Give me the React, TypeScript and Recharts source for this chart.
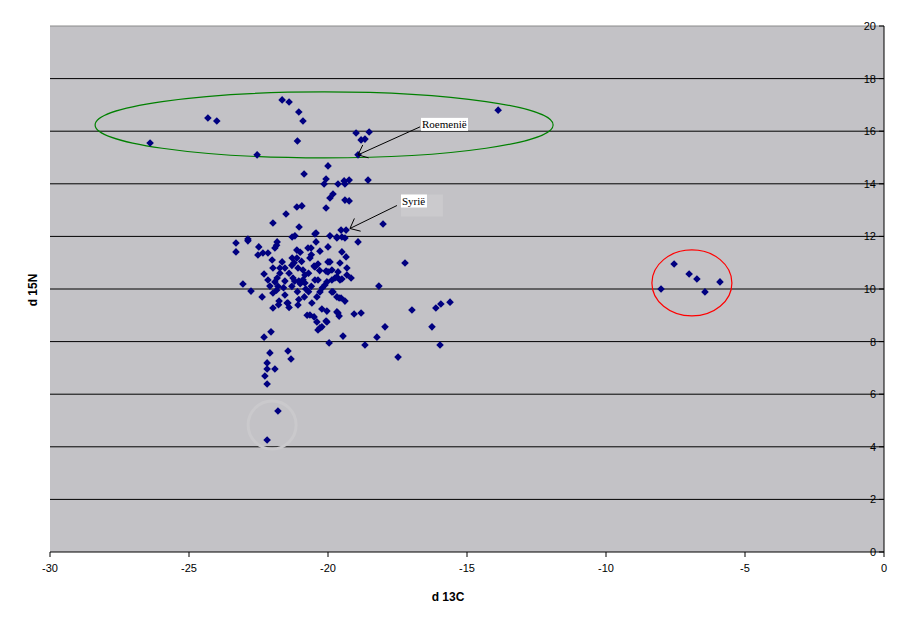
import { ScatterChart, Scatter, XAxis, YAxis, ReferenceLine, ReferenceArea } from "recharts";

// d13C / d15N values
const xTicks = [-30, -25, -20, -15, -10, -5, 0];
const yTicks = [0, 2, 4, 6, 8, 10, 12, 14, 16, 18, 20];
const gridValues = [2, 4, 6, 8, 10, 12, 14, 16, 18];

const upperGroup: [number, number][] = [
  [-26.4, 15.55], [-24.32, 16.5], [-24.0, 16.39], [-22.55, 15.1], [-21.65, 17.19], [-21.4, 17.11],
  [-21.05, 16.73], [-20.9, 16.39], [-21.1, 15.63], [-18.99, 15.93], [-18.52, 15.97], [-18.81, 15.67],
  [-18.67, 15.7], [-18.92, 15.1], [-13.88, 16.8],
];

const column: [number, number][] = [
  [-20.0, 14.68], [-20.86, 14.37], [-20.07, 14.18], [-20.14, 13.99], [-19.64, 13.99], [-19.39, 13.99],
  [-19.42, 14.11], [-19.24, 14.14], [-18.56, 14.14], [-19.82, 13.61], [-19.93, 13.46], [-19.39, 13.38],
  [-19.24, 13.35], [-21.12, 13.12], [-20.94, 13.16], [-20.07, 13.08], [-21.51, 12.85], [-21.98, 12.51],
  [-21.04, 12.36], [-20.47, 12.09], [-18.02, 12.47], [-19.53, 12.24], [-19.35, 12.24], [-21.29, 11.98],
  [-21.19, 12.02], [-19.93, 12.02], [-19.68, 11.98], [-19.5, 11.98], [-22.88, 11.9], [-18.92, 11.79],
  [-17.23, 10.99],
];

const core: [number, number][] = [
  [-23.31, 11.75], [-22.88, 11.83], [-23.31, 11.41], [-22.49, 11.6], [-22.52, 11.29], [-22.34, 11.37],
  [-22.16, 11.37], [-21.83, 11.79], [-21.91, 11.56], [-21.85, 11.66], [-22.01, 11.1], [-21.98, 10.8],
  [-21.65, 11.03], [-21.73, 10.8], [-21.55, 10.8], [-22.3, 10.57], [-22.16, 10.34], [-21.83, 10.42],
  [-21.73, 10.6], [-21.55, 10.3], [-23.06, 10.19],
  [-20.43, 12.13], [-20.43, 11.79], [-19.68, 11.94], [-19.39, 11.94], [-20.72, 11.56], [-20.61, 11.56],
  [-21.12, 11.48], [-21.0, 11.4], [-20.29, 11.44], [-20.0, 11.6], [-21.29, 11.18], [-21.12, 11.18],
  [-21.22, 11.0], [-20.65, 11.18], [-20.36, 10.95], [-20.0, 11.03], [-19.93, 11.03], [-19.57, 10.99],
  [-19.35, 11.22], [-19.5, 11.41], [-21.08, 10.8], [-20.9, 10.72], [-20.47, 10.84], [-20.83, 10.53],
  [-20.0, 10.65], [-19.64, 10.65], [-21.26, 10.42], [-21.05, 10.3], [-20.47, 10.34], [-19.75, 10.42],
  [-19.57, 10.34], [-19.32, 10.53], [-20.04, 10.27], [-20.83, 10.23],
  [-22.77, 9.92], [-22.37, 9.7], [-22.09, 10.11], [-21.91, 10.27], [-21.8, 10.1], [-21.98, 9.85],
  [-21.85, 9.95], [-21.76, 9.54], [-21.78, 9.4], [-21.47, 9.47], [-21.4, 9.3], [-21.98, 9.28],
  [-21.55, 9.77],
  [-21.2, 10.3], [-21.0, 10.2], [-20.8, 10.0], [-21.1, 9.9], [-20.9, 10.35], [-20.6, 10.1],
  [-20.7, 9.9], [-21.3, 10.1], [-20.11, 10.15], [-20.29, 9.89], [-19.86, 9.89], [-19.68, 9.7],
  [-19.39, 9.54], [-21.44, 9.47], [-21.08, 9.39], [-20.58, 9.47], [-20.65, 9.01], [-20.75, 9.0],
  [-20.5, 8.94], [-20.22, 9.24], [-20.04, 9.16], [-19.64, 9.09], [-20.4, 8.75], [-20.04, 8.75],
  [-20.22, 8.56], [-20.36, 8.44], [-19.46, 8.21],
  [-20.5, 10.87], [-20.07, 10.68], [-19.86, 10.72], [-19.68, 10.46], [-19.5, 10.38], [-19.17, 10.42],
  [-19.86, 10.34], [-19.32, 10.8], [-20.36, 10.34], [-18.17, 10.11], [-19.82, 9.89], [-19.6, 9.66],
  [-19.53, 9.66], [-19.68, 9.13], [-19.6, 8.97], [-19.06, 9.05], [-18.81, 9.09], [-20.07, 8.78],
  [-20.29, 8.52], [-17.95, 8.56], [-18.24, 8.17], [-19.96, 7.95], [-18.67, 7.87],
  [-21.4, 10.6], [-21.3, 10.9], [-20.7, 10.6], [-20.6, 11.3], [-20.3, 10.7], [-20.95, 11.05],
  [-21.6, 10.05], [-20.4, 9.7], [-20.2, 10.05], [-21.05, 9.6], [-20.85, 9.7],
];

const lowerTail: [number, number][] = [
  [-22.05, 8.37], [-22.3, 8.17], [-22.09, 7.57], [-21.44, 7.64], [-21.33, 7.34], [-22.19, 7.19],
  [-22.19, 6.96], [-21.91, 6.96], [-22.27, 6.69], [-22.19, 6.39], [-21.8, 5.36], [-22.19, 4.26],
  [-17.48, 7.41], [-15.97, 7.87], [-16.26, 8.56], [-16.12, 9.28], [-15.94, 9.43], [-15.61, 9.5],
  [-16.98, 9.2],
];

const redGroup: [number, number][] = [
  [-8.02, 10.0], [-7.55, 10.95], [-7.01, 10.57], [-6.73, 10.38], [-6.44, 9.89], [-5.9, 10.27],
];

const toPts = (arr: [number, number][]) => arr.map(([c, n]) => ({ c, n }));
const allPoints = toPts([...upperGroup, ...column, ...core, ...lowerTail, ...redGroup]);

const greenEllipse = [{ c: -20.14, n: 16.24 }];
const redEllipse = [{ c: -6.91, n: 10.23 }];
const fadedMark = [{ c: -22.01, n: 4.83 }];
const roemenie = [{ c: -18.92, n: 15.1 }];
const syrie = [{ c: -19.21, n: 12.3 }];

const Diamond = (props: any) => {
  const { cx, cy } = props;
  const r = 3.8;
  return (
    <path d={`M${cx},${cy - r}L${cx + r},${cy}L${cx},${cy + r}L${cx - r},${cy}Z`} fill="#000080" />
  );
};

const makeEllipse = (rx: number, ry: number, color: string) => (props: any) =>
  <ellipse cx={props.cx} cy={props.cy} rx={rx} ry={ry} fill="none" stroke={color} strokeWidth={1.2} />;

const makeCallout = (text: string, dx: number, dy: number, bx: number, by: number, bw: number, shade?: boolean) =>
  (props: any) => {
    const { cx, cy } = props;
    const ex = cx + dx;
    const ey = cy + dy;
    const ang = Math.atan2(ey - cy, ex - cx);
    const len = 11;
    const spread = 0.7;
    const w1 = `${cx + len * Math.cos(ang - spread)},${cy + len * Math.sin(ang - spread)}`;
    const w2 = `${cx + len * Math.cos(ang + spread)},${cy + len * Math.sin(ang + spread)}`;
    return (
      <g>
        {shade && <rect x={cx + bx} y={cy + by} width={42} height={22} fill="#cbcacd" />}
        <line x1={cx} y1={cy} x2={ex} y2={ey} stroke="#000" strokeWidth={1} />
        <polyline points={`${w1} ${cx},${cy} ${w2}`} fill="none" stroke="#000" strokeWidth={1} />
        <rect x={cx + bx} y={cy + by} width={bw} height={13} fill="#fff" />
        <text x={cx + bx + 1} y={cy + by + 10} fontSize={11} fontFamily="Liberation Serif" fill="#000">
          {text}
        </text>
      </g>
    );
  };

export default function App() {
  return (
    <div style={{ position: "absolute", left: 0, top: 0, width: 911, height: 623, background: "#fff" }}>
      <ScatterChart width={911} height={623} margin={{ top: 26, right: 27, bottom: 0, left: 50 }}>
        <XAxis
          type="number"
          dataKey="c"
          domain={[-30, 0]}
          ticks={xTicks}
          height={71}
          stroke="#000"
          tickSize={5}
          tickMargin={7}
          tick={{ fill: "#000", fontSize: 11, fontFamily: "Liberation Sans" }}
          allowDataOverflow
        />
        <YAxis
          type="number"
          dataKey="n"
          domain={[0, 20]}
          ticks={yTicks}
          orientation="right"
          mirror
          width={40}
          stroke="#000"
          tickSize={5}
          tickMargin={3}
          tick={{ fill: "#000", fontSize: 11, fontFamily: "Liberation Sans" }}
          allowDataOverflow
        />
        <ReferenceArea x1={-30} x2={0} y1={0} y2={20} fill="#c3c2c6" fillOpacity={1} stroke="none" />
        <ReferenceLine y={20} stroke="#8a8a8a" />
        {gridValues.map((v) => (
          <ReferenceLine key={v} y={v} stroke="#000" strokeWidth={1} />
        ))}
        <Scatter data={fadedMark} isAnimationActive={false}
          shape={(p: any) => <circle cx={p.cx} cy={p.cy} r={24} fill="none" stroke="#cac9cc" strokeWidth={3} />} />
        <Scatter data={greenEllipse} isAnimationActive={false} shape={makeEllipse(229, 33, "#008000")} />
        <Scatter data={redEllipse} isAnimationActive={false} shape={makeEllipse(40, 33, "#ff0000")} />
        <Scatter data={allPoints} isAnimationActive={false} shape={Diamond} />
        <Scatter data={roemenie} isAnimationActive={false} shape={makeCallout("Roemenië", 62, -28, 63, -37, 47)} />
        <Scatter data={syrie} isAnimationActive={false} shape={makeCallout("Syrië", 47, -23, 51, -34, 26, true)} />
      </ScatterChart>
      <div
        style={{
          position: "absolute", left: 448, top: 597, transform: "translate(-50%, -50%)",
          fontFamily: "Liberation Sans", fontWeight: "bold", fontSize: 12, whiteSpace: "nowrap",
        }}
      >
        d 13C
      </div>
      <div
        style={{
          position: "absolute", left: 33, top: 290, transform: "translate(-50%, -50%) rotate(-90deg)",
          fontFamily: "Liberation Sans", fontWeight: "bold", fontSize: 12, whiteSpace: "nowrap",
        }}
      >
        d 15N
      </div>
    </div>
  );
}
